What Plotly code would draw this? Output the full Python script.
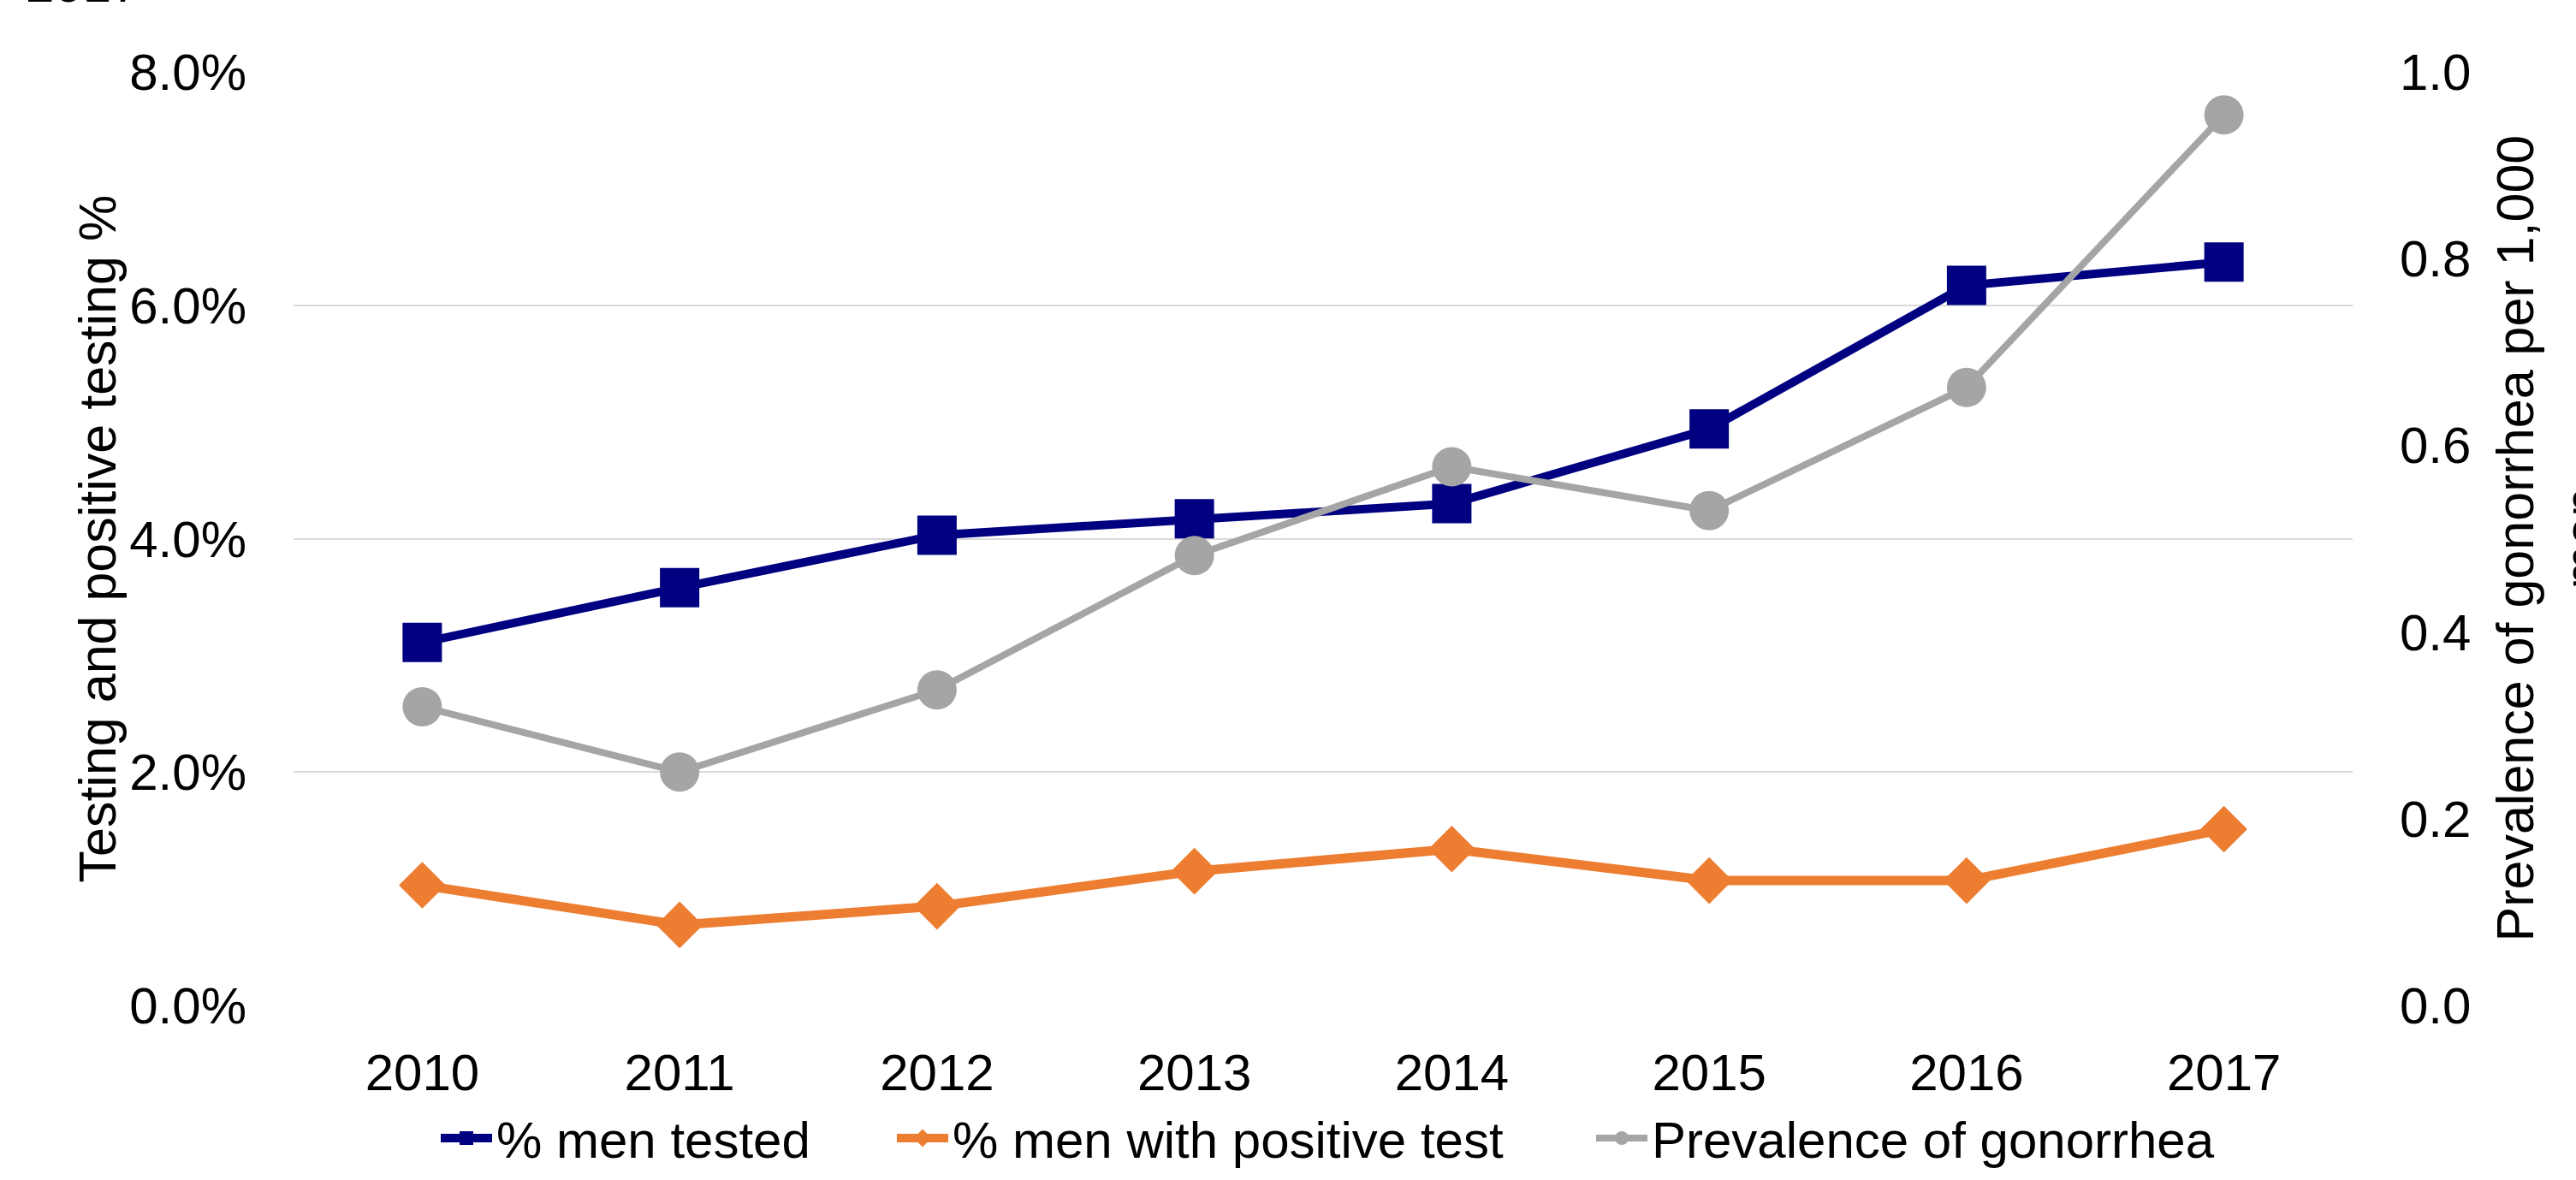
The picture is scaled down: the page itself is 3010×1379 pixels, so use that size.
import plotly.graph_objects as go

years = ["2010", "2011", "2012", "2013", "2014", "2015", "2016", "2017"]
men_tested = [3.11, 3.58, 4.03, 4.17, 4.30, 4.94, 6.17, 6.37]
men_positive = [1.03, 0.69, 0.85, 1.15, 1.34, 1.07, 1.07, 1.51]
prevalence = [0.320, 0.250, 0.338, 0.482, 0.577, 0.530, 0.662, 0.954]

names = ["% men tested", "% men with positive test", "Prevalence of gonorrhea"]
left_ticks = [0, 2, 4, 6, 8]
left_tick_labels = ["0.0%", "2.0%", "4.0%", "6.0%", "8.0%"]
right_ticks = [0, 0.2, 0.4, 0.6, 0.8, 1.0]
right_tick_labels = ["0.0", "0.2", "0.4", "0.6", "0.8", "1.0"]

FONT = "Liberation Sans, Arial, sans-serif"
W, H = 3010, 1379
L, R, T, B = 343, 261, 84, 204
PW, PH = W - L - R, H - T - B


def px_x(p):
    return (p - L) / PW


def px_y(p):
    return (T + PH - p) / PH


fig = go.Figure()
fig.add_trace(go.Scatter(
    x=years, y=men_tested, name=names[0], mode="lines+markers", legend="legend",
    line=dict(color="#000080", width=10),
    marker=dict(symbol="square", size=46, color="#000080"),
))
fig.add_trace(go.Scatter(
    x=years, y=men_positive, name=names[1], mode="lines+markers", legend="legend2",
    line=dict(color="#ED7D31", width=11),
    marker=dict(symbol="diamond", size=42, color="#ED7D31"),
))
fig.add_trace(go.Scatter(
    x=years, y=prevalence, name=names[2], mode="lines+markers", yaxis="y2",
    legend="legend3",
    line=dict(color="#A5A5A5", width=8),
    marker=dict(symbol="circle", size=46, color="#A5A5A5"),
))

leg_common = dict(orientation="h", xanchor="left", y=px_y(1330), yanchor="middle",
                  font=dict(size=60), itemwidth=60, bgcolor="rgba(0,0,0,0)")

fig.update_layout(
    width=W, height=H,
    margin=dict(l=L, r=R, t=T, b=B, autoexpand=False),
    paper_bgcolor="white", plot_bgcolor="white",
    font=dict(family=FONT, size=60, color="black"),
    showlegend=True,
    legend=dict(x=px_x(510), **leg_common),
    legend2=dict(x=px_x(1043), **leg_common),
    legend3=dict(x=px_x(1860), **leg_common),
    xaxis=dict(
        type="category", range=[-0.5, 7.5], showgrid=False, zeroline=False,
        showline=False, ticks="", tickfont=dict(size=60), ticklabelstandoff=38,
    ),
    yaxis=dict(
        range=[0, 8], tickmode="array", tickvals=left_ticks, ticktext=left_tick_labels,
        showgrid=True, gridcolor="#D9D9D9", gridwidth=2, zeroline=False,
        showline=False, ticks="", tickfont=dict(size=60), ticklabelstandoff=54,
    ),
    yaxis2=dict(
        range=[0, 1], tickmode="array", tickvals=right_ticks, ticktext=right_tick_labels,
        overlaying="y", side="right", showgrid=False, zeroline=False, showline=False,
        ticks="", tickfont=dict(size=60), ticklabelstandoff=54,
    ),
    annotations=[
        dict(text="Testing and positive testing %", xref="paper", yref="paper",
             x=px_x(113), y=0.5, xanchor="center", yanchor="middle",
             textangle=-90, showarrow=False, font=dict(size=61)),
        dict(text="Prevalence of gonorrhea per 1,000<br>men", xref="paper", yref="paper",
             x=px_x(2978), y=0.5, xanchor="center", yanchor="middle",
             textangle=-90, showarrow=False, font=dict(size=61)),
        dict(text="2017", xref="paper", yref="paper",
             x=px_x(28), y=1, xanchor="left", yanchor="bottom",
             yshift=67, showarrow=False, font=dict(size=60)),
    ],
)

fig.write_html("out.html")
